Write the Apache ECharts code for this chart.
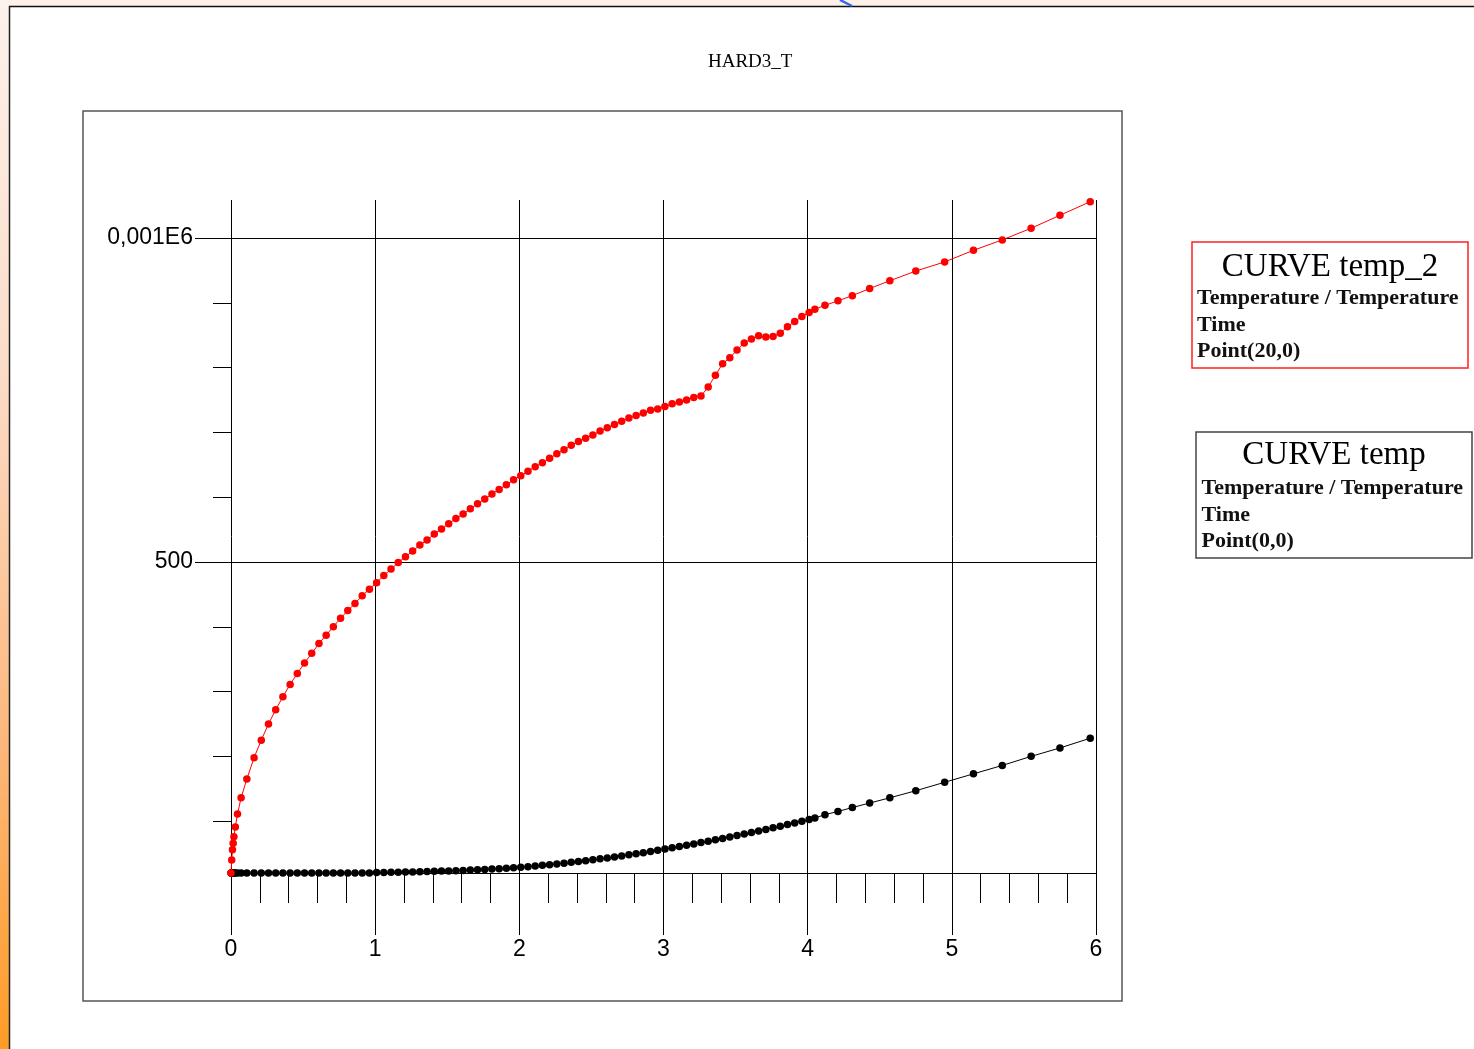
<!DOCTYPE html>
<html>
<head>
<meta charset="utf-8">
<script src="https://cdn.jsdelivr.net/npm/echarts@6/dist/echarts.min.js"></script>
<style>
  html, body { margin: 0; padding: 0; background: #ffffff; }
  #chart { width: 1474px; height: 1049px; }
</style>
</head>
<body>
<div id="chart"></div>
<script>
// Time samples (s), shared by both curves
const times = [
  0, 0.005, 0.01, 0.015, 0.02, 0.03, 0.045, 0.07, 0.11,
  0.16, 0.21, 0.26, 0.31, 0.36, 0.41, 0.46, 0.51, 0.56, 0.61, 0.66, 0.71, 0.76, 0.81, 0.86, 0.91, 0.96,
  1.01, 1.06, 1.11, 1.16, 1.21, 1.26, 1.31, 1.36, 1.41, 1.46, 1.51, 1.56, 1.61, 1.66, 1.71, 1.76, 1.81, 1.86, 1.91, 1.96,
  2.01, 2.06, 2.11, 2.16, 2.21, 2.26, 2.31, 2.36, 2.41, 2.46, 2.51, 2.56, 2.61, 2.66, 2.71, 2.76, 2.81, 2.86, 2.91, 2.96,
  3.01, 3.06, 3.11, 3.16, 3.21, 3.26, 3.31, 3.36, 3.41, 3.46, 3.51, 3.56, 3.61, 3.66, 3.71, 3.76, 3.81, 3.86, 3.91, 3.96,
  4.01, 4.05, 4.12, 4.21, 4.31, 4.43, 4.57, 4.75, 4.95, 5.15, 5.35, 5.55, 5.75, 5.96
];

// CURVE temp_2 : Point(20,0)
const tempPoint20 = [
  20, 40, 56, 66, 76, 91, 111, 136, 165,
  198, 225, 250, 272, 292, 311, 328, 344, 359, 374, 387, 400, 413, 425, 436, 448, 458,
  468, 479, 489, 499, 508, 517, 526, 534, 543, 551, 559, 567, 574, 582, 590, 597, 605, 612, 619, 627,
  633, 640, 647, 653, 660, 667, 673, 680, 686, 691, 696, 702, 707, 712, 717, 722, 726, 730, 734, 736,
  740, 744, 747, 750, 754, 756, 770, 788, 806, 815, 827, 838, 844, 849, 847, 848, 853, 863, 871, 879,
  885, 890, 896, 903, 911, 922, 934, 949, 963, 981, 997, 1015, 1035, 1056
];

// CURVE temp : Point(0,0)
const tempPoint0 = [
  20, 20, 20, 20, 20, 20, 20, 20, 20,
  20, 20, 20, 20, 20, 20, 20, 20, 20, 20, 20, 20, 20, 20, 20, 20, 20,
  20.8, 20.9, 21.1, 21.3, 21.5, 21.7, 22.0, 22.3, 22.6, 22.9, 23.2, 23.6, 24.0, 24.5, 25.0, 25.5, 26.1, 26.7, 27.4, 28.1,
  28.9, 29.8, 30.8, 31.8, 32.9, 34.0, 35.2, 36.4, 37.7, 39.0, 40.4, 41.8, 43.3, 44.8, 46.4, 48.0, 49.7, 51.4, 53.2, 55.0,
  56.9, 58.8, 60.8, 62.8, 64.8, 66.9, 69.0, 71.2, 73.4, 75.6, 77.9, 80.2, 82.5, 84.9, 87.3, 89.7, 92.2, 94.7, 97.2, 99.8,
  102.4, 105, 110, 115, 121, 128, 136, 147, 160, 173, 186, 200, 213, 228
];

// Axis ticks
const yMinorTicks = [100, 200, 300, 400, 500, 600, 700, 800, 900, 1000];
const yMajorTicks = [500, 1000];
const yMajorLabels = { 500: '500', 1000: '0,001E6' };

const legendBoxes = [
  { title: 'CURVE temp_2', lines: ['Temperature / Temperature', 'Time', 'Point(20,0)'], color: '#ff2020' },
  { title: 'CURVE temp',   lines: ['Temperature / Temperature', 'Time', 'Point(0,0)'],  color: '#444444' }
];

const Y_MIN = 20, Y_MAX = 1058.6;
const SANS = '"Liberation Sans", Arial, sans-serif';
const SERIF = '"Liberation Serif", "Times New Roman", serif';

const pairs = (vals) => times.map((t, i) => [t, vals[i]]);

// Legend boxes drawn as framed text blocks
function legendGraphic(box, x, y, w, h, textX, titleY, lineYs) {
  const children = [
    { type: 'rect', shape: { x: x, y: y, width: w, height: h },
      style: { fill: '#ffffff', stroke: box.color, lineWidth: 1.5 } },
    { type: 'text', style: { text: box.title, x: x + w / 2, y: titleY, font: '33px ' + SERIF,
      fill: '#000', align: 'center', verticalAlign: 'middle', textAlign: 'center', textVerticalAlign: 'middle' } }
  ];
  box.lines.forEach((ln, i) => {
    children.push({ type: 'text', style: { text: ln, x: textX, y: lineYs[i], font: 'bold 22px ' + SERIF,
      fill: '#111', align: 'left', verticalAlign: 'middle', textAlign: 'left', textVerticalAlign: 'middle' } });
  });
  return { type: 'group', children: children };
}

const chart = echarts.init(document.getElementById('chart'), null, { renderer: 'canvas' });

chart.setOption({
  animation: false,
  backgroundColor: '#ffffff',
  title: {
    text: 'HARD3_T',
    left: 703, top: 47.5,
    textStyle: { fontFamily: SERIF, fontSize: 19, fontWeight: 'normal', color: '#000' }
  },
  grid: { left: 231, top: 200, width: 865, height: 673, containLabel: false },
  xAxis: {
    type: 'value', min: 0, max: 6, interval: 1,
    axisLine: { show: true, onZero: false, lineStyle: { color: '#000', width: 1 } },
    axisTick: { show: true, length: 62, lineStyle: { color: '#000', width: 1 } },
    minorTick: { show: true, splitNumber: 5, length: 30, lineStyle: { color: '#000', width: 1 } },
    splitLine: { show: true, lineStyle: { color: '#000', width: 1 } },
    axisLabel: { margin: 65, fontSize: 23, fontFamily: SANS, color: '#000' }
  },
  yAxis: [
    {
      type: 'value', min: Y_MIN, max: Y_MAX, position: 'left',
      axisLine: { show: false },
      axisTick: { show: true, length: 18, customValues: yMinorTicks, lineStyle: { color: '#000', width: 1 } },
      axisLabel: { show: false },
      splitLine: { show: false }
    },
    {
      type: 'value', min: Y_MIN, max: Y_MAX, position: 'left',
      axisLine: { show: false },
      axisTick: { show: true, length: 36, customValues: yMajorTicks, lineStyle: { color: '#000', width: 1 } },
      axisLabel: {
        customValues: yMajorTicks, margin: 38, fontSize: 23, fontFamily: SANS, color: '#000',
        padding: [4, 0, 0, 0],
        formatter: (v) => yMajorLabels[v] || ''
      },
      splitLine: { show: true, lineStyle: { color: '#000', width: 1 } }
    }
  ],
  series: [
    {
      name: 'CURVE temp', type: 'line', yAxisIndex: 1, clip: false,
      data: pairs(tempPoint0),
      symbol: 'circle', symbolSize: 7.5, showSymbol: true,
      lineStyle: { color: '#000000', width: 1 },
      itemStyle: { color: '#000000' },
      z: 3
    },
    {
      name: 'CURVE temp_2', type: 'line', yAxisIndex: 1, clip: false,
      data: pairs(tempPoint20),
      symbol: 'circle', symbolSize: 7.5, showSymbol: true,
      lineStyle: { color: '#ff0000', width: 1 },
      itemStyle: { color: '#ff0000' },
      z: 4
    }
  ],
  graphic: [
    // window frame and decorative edges
    { type: 'rect', z: -10, shape: { x: 0, y: 0, width: 1474, height: 7 }, style: { fill: '#fdf1ea' } },
    { type: 'rect', z: -10, shape: { x: 0, y: 0, width: 9, height: 1049 },
      style: { fill: new echarts.graphic.LinearGradient(0, 0, 0, 1, [
        { offset: 0, color: '#fdf2ec' },
        { offset: 0.35, color: '#fcdcc8' },
        { offset: 0.7, color: '#fdb87e' },
        { offset: 1, color: '#ff9c26' }
      ]) } },
    { type: 'line', z: -5, shape: { x1: 9, y1: 6.5, x2: 1474, y2: 6.5 }, style: { stroke: '#111', lineWidth: 1.5 } },
    { type: 'line', z: -5, shape: { x1: 9.5, y1: 6, x2: 9.5, y2: 1049 }, style: { stroke: '#222', lineWidth: 1.5 } },
    { type: 'line', z: -5, shape: { x1: 840, y1: 0, x2: 852, y2: 6 }, style: { stroke: '#2f68e8', lineWidth: 2.5 } },
    // plot frame
    { type: 'rect', z: -5, shape: { x: 83, y: 111, width: 1039, height: 890 },
      style: { fill: 'transparent', stroke: '#555', lineWidth: 1.5 } },
    legendGraphic(legendBoxes[0], 1192, 242, 276, 126, 1197, 267, [298, 325, 351.5]),
    legendGraphic(legendBoxes[1], 1196, 432, 276, 126, 1201.5, 455, [488, 515, 541.5])
  ]
});
</script>
</body>
</html>
